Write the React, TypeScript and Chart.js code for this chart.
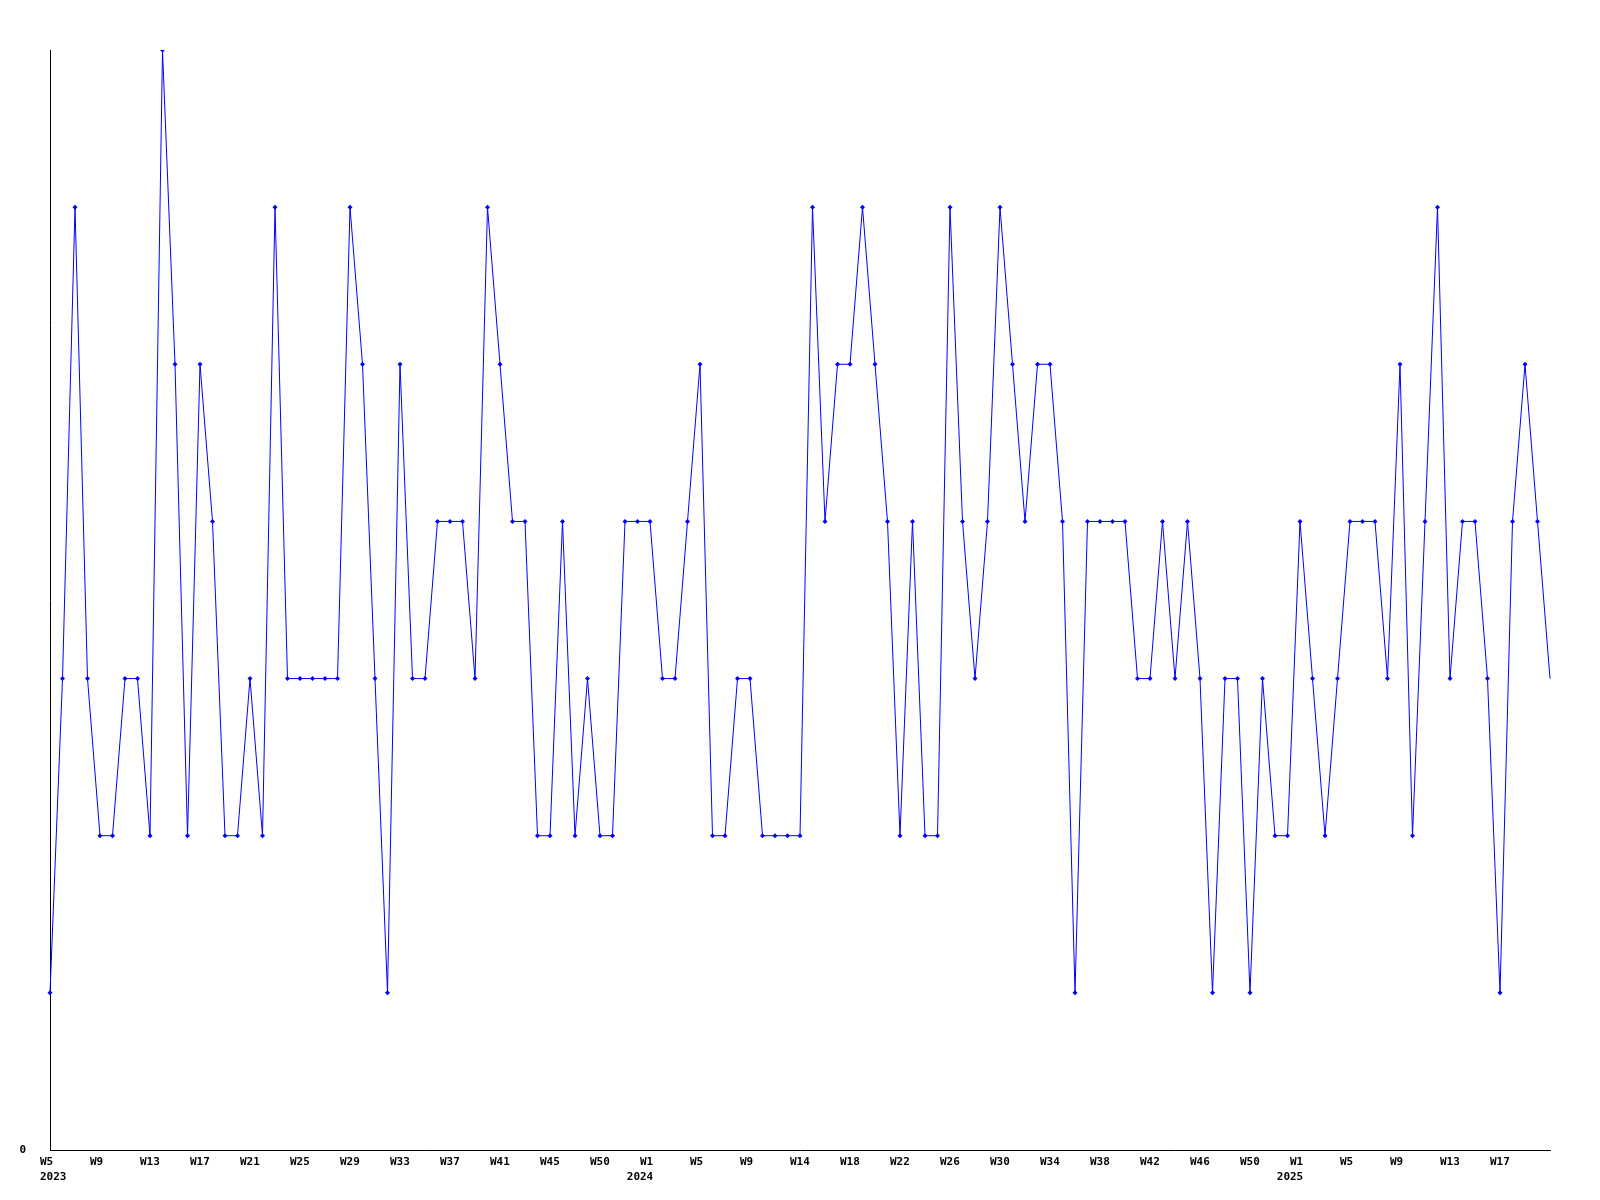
import React, { useEffect, useRef } from "react";
import { Chart, registerables } from "chart.js";

Chart.register(...registerables);

// Weekly values, 2023 W5 .. 2025 W21
const values2023 = [
  1, 3, 6, 3, 2, 2, 3, 3, 2, 7, 5, 2, 5, 4, 2, 2, 3, 2, 6, 3, 3, 3, 3, 3,
  6, 5, 3, 1, 5, 3, 3, 4, 4, 4, 3, 6, 5, 4, 4, 2, 2, 4, 2, 3, 2, 2, 4, 4,
];
const values2024 = [
  4, 3, 3, 4, 5, 2, 2, 3, 3, 2, 2, 2, 2, 6, 4, 5, 5, 6, 5, 4, 2, 4, 2, 2, 6, 4,
  3, 4, 6, 5, 4, 5, 5, 4, 1, 4, 4, 4, 4, 3, 3, 4, 3, 4, 3, 1, 3, 3, 1, 3, 2, 2,
];
const values2025 = [4, 3, 2, 3, 4, 4, 4, 3, 5, 2, 4, 6, 3, 4, 4, 3, 1, 4, 5, 4, 3];

const values = [...values2023, ...values2024, ...values2025];

// One category per week
const categories: string[] = [];
for (let w = 5; w <= 52; w++) categories.push(`2023-W${w}`);
for (let w = 1; w <= 52; w++) categories.push(`2024-W${w}`);
for (let w = 1; w <= 21; w++) categories.push(`2025-W${w}`);

// Tick labels shown every 4th week
const tickLabels = [
  "W5", "W9", "W13", "W17", "W21", "W25", "W29", "W33", "W37", "W41", "W45", "W50",
  "W1", "W5", "W9", "W14", "W18", "W22", "W26", "W30", "W34", "W38", "W42", "W46", "W50",
  "W1", "W5", "W9", "W13", "W17",
];
const yearTickIndex = [0, 12, 25];
const yearLabels = ["2023", "2024", "2025"];

const FONT = { family: "'DejaVu Sans Mono', monospace", size: 11, weight: "bold" as const, lineHeight: 1.36 };

export default function App() {
  const ref = useRef<HTMLCanvasElement | null>(null);
  useEffect(() => {
    if (!ref.current) return;
    const last = values.length - 1;
    const chart = new Chart(ref.current, {
      type: "line",
      data: {
        labels: categories,
        datasets: [
          {
            data: values,
            xAxisID: "x",
            borderColor: "#0000ff",
            backgroundColor: "#0000ff",
            borderWidth: 1,
            pointStyle: "rectRot",
            pointRadius: (c: any) => (c.dataIndex === last ? 0 : 2.5),
            pointBorderWidth: 0,
            pointBackgroundColor: "#0000ff",
            tension: 0,
            fill: false,
          },
        ],
      },
      options: {
        animation: false,
        responsive: true,
        maintainAspectRatio: false,
        layout: { padding: { top: 42, right: 42, left: 0, bottom: 0 } },
        plugins: { legend: { display: false }, tooltip: { enabled: false } },
        scales: {
          x: {
            type: "category",
            position: "bottom",
            offset: false,
            grid: { display: false, drawTicks: false },
            border: { display: true, color: "#000000", width: 1 },
            afterFit: (s: any) => {
              s.height = 15;
            },
            ticks: {
              autoSkip: false,
              maxRotation: 0,
              minRotation: 0,
              align: "start",
              labelOffset: -10,
              padding: 5,
              color: "#000000",
              font: FONT,
              callback: (_v: any, i: number) => {
                if (i % 4 !== 0) return "";
                const label = tickLabels[i / 4];
                return label === undefined ? "" : label;
              },
            },
          },
          x2: {
            type: "category",
            position: "bottom",
            offset: false,
            grid: { display: false, drawTicks: false },
            border: { display: false },
            afterFit: (s: any) => {
              s.height = 27;
            },
            ticks: {
              autoSkip: false,
              maxRotation: 0,
              minRotation: 0,
              align: "inner",
              labelOffset: -10,
              padding: 5,
              color: "#000000",
              font: FONT,
              callback: (_v: any, i: number) => {
                if (i % 4 !== 0) return "";
                const y = yearTickIndex.indexOf(i / 4);
                return y >= 0 ? yearLabels[y] : "";
              },
            },
          },
          y: {
            min: 0,
            max: 7,
            grid: { display: false, drawTicks: false },
            border: { display: true, color: "#000000", width: 1 },
            afterFit: (s: any) => {
              s.width = 42;
            },
            afterBuildTicks: (s: any) => {
              s.ticks = [{ value: 0 }];
            },
            ticks: {
              padding: 24,
              color: "#000000",
              font: FONT,
              callback: (v: any) => String(v),
            },
          },
        },
      },
    });
    return () => chart.destroy();
  }, []);
  return (
    <div style={{ width: "1584px", height: "1184px", position: "relative" }}>
      <canvas ref={ref} />
    </div>
  );
}
